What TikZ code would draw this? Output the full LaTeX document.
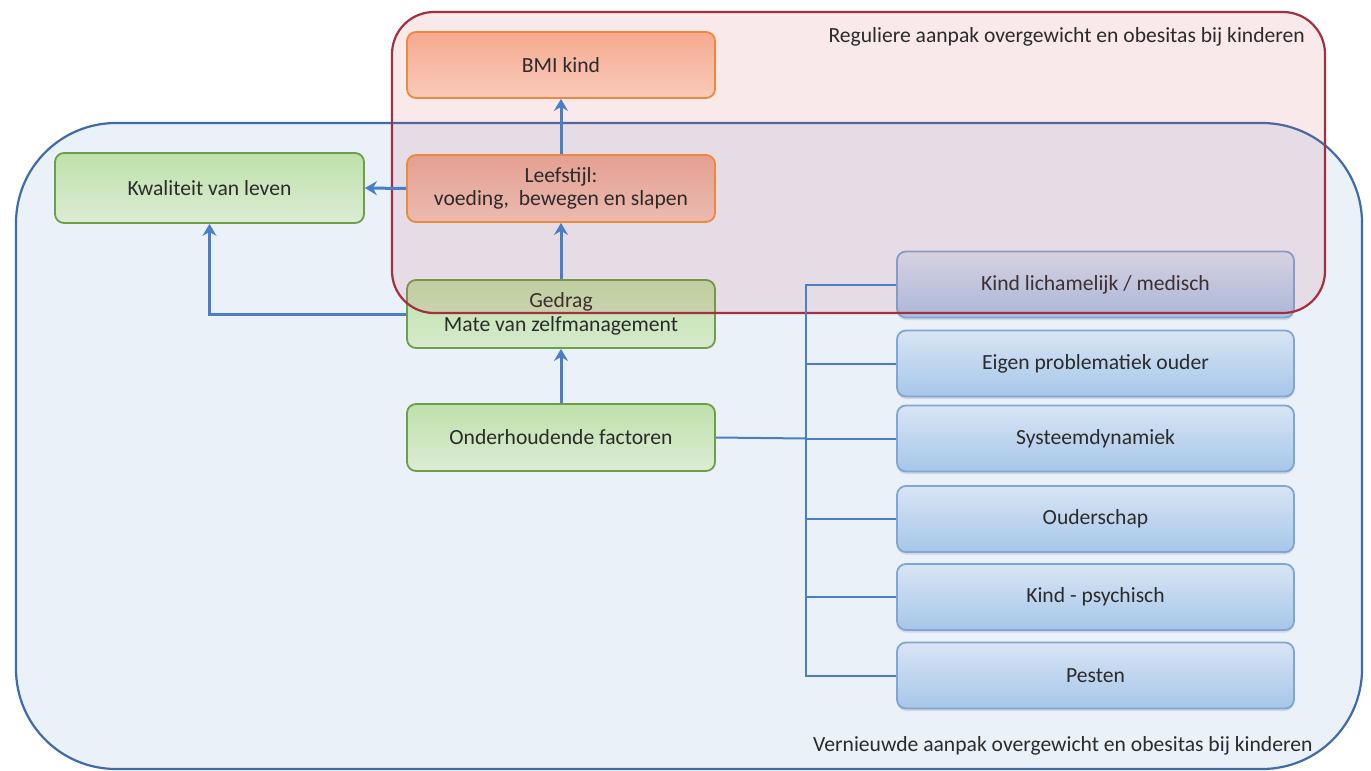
\documentclass[tikz,border=0pt]{standalone}
\usepackage{fontspec}
\setmainfont{Carlito}
\usetikzlibrary{arrows.meta,shadows}
\definecolor{txt}{HTML}{2B2B2B}
\definecolor{bigblue}{HTML}{EAF1F9}
\definecolor{bigbluedraw}{HTML}{3E6BA9}
\definecolor{pinkov}{HTML}{D04C5A}
\definecolor{pinkdraw}{HTML}{A3303F}
\definecolor{grdraw}{HTML}{6E9E4C}
\definecolor{ordraw}{HTML}{F0883A}
\definecolor{bldraw}{HTML}{7FA6D6}
\definecolor{conn}{HTML}{4A7EC6}
\definecolor{grA}{RGB}{190,225,170}
\definecolor{grB}{RGB}{220,236,212}
\definecolor{gdA}{RGB}{190,225,170}
\definecolor{gdB}{RGB}{214,234,204}
\definecolor{blA}{RGB}{216,229,244}
\definecolor{blB}{RGB}{166,198,233}
\definecolor{orA}{RGB}{246,170,144}
\definecolor{orB}{RGB}{249,203,186}
\definecolor{leA}{RGB}{228,160,146}
\definecolor{leB}{RGB}{236,186,176}
\tikzset{
  basebox/.style={rounded corners=9pt, line width=1.8pt, inner sep=0pt, align=center,
    text=txt, font=\fontsize{21.6}{24.5}\selectfont},
  midbox/.style={basebox, minimum width=308pt, minimum height=67pt},
  greenbox/.style={midbox, draw=grdraw, top color=grA, bottom color=grB},
  orangebox/.style={midbox, draw=ordraw},
  bluebox/.style={basebox, draw=bldraw, minimum width=397pt, minimum height=66pt,
    top color=blA, bottom color=blB,
    drop shadow={opacity=0.22, shadow xshift=0pt, shadow yshift=-2.5pt}},
  arrowline/.style={draw=conn, line width=3pt, -{Stealth[length=12pt,width=14pt,inset=4pt]}},
  bracketline/.style={draw=conn, line width=2pt},
  label/.style={text=txt, font=\fontsize{21.6}{24.5}\selectfont, inner sep=0pt}
}
\begin{document}
\begin{tikzpicture}[x=1pt,y=-1pt]
\fill[white] (0,0) rectangle (1371,771);
\useasboundingbox (0,0) rectangle (1371,771);
% big blue region
\draw[fill=bigblue, draw=bigbluedraw, line width=2.2pt, rounded corners=100pt] (16,123) rectangle (1362,769);
% boxes under the pink overlay
\node[greenbox, minimum width=309pt, minimum height=70pt] (kwal) at (209.5,188) {Kwaliteit van leven};
\node[greenbox, top color=gdA, bottom color=gdB, minimum height=68pt] (ged) at (561,314) {Gedrag\\[-1pt]Mate van zelfmanagement};
\node[greenbox] (ond) at (561,437.5) {Onderhoudende factoren};
\node[bluebox] (k1) at (1095.5,284.5) {Kind lichamelijk / medisch};
\node[bluebox] (k2) at (1095.5,363.5) {Eigen problematiek ouder};
\node[bluebox] (k3) at (1095.5,438.5) {Systeemdynamiek};
\node[bluebox] (k4) at (1095.5,519) {Ouderschap};
\node[bluebox] (k5) at (1095.5,597) {Kind - psychisch};
\node[bluebox] (k6) at (1095.5,675.5) {Pesten};
% pink region
\draw[fill=pinkov, fill opacity=0.12, draw=pinkdraw, line width=2.2pt, rounded corners=42pt] (392,12) rectangle (1325,313);
% orange boxes
\node[orangebox, top color=orA, bottom color=orB, minimum height=66pt] (bmi) at (561,65) {BMI kind};
\node[orangebox, top color=leA, bottom color=leB] (leef) at (561,188.5) {Leefstijl:\\[-2pt]voeding,\ \ bewegen en slapen};
% labels
\node[label, anchor=east] (lreg) at (1305,37) {Reguliere aanpak overgewicht en obesitas bij kinderen};
\node[label, anchor=west] (lver) at (813,746) {Vernieuwde aanpak overgewicht en obesitas bij kinderen};
% connectors
\draw[arrowline] (leef.north) -- (bmi.south);
\draw[arrowline] (ged.north) -- (leef.south);
\draw[arrowline] (ond.north) -- (ged.south);
\draw[arrowline] (leef.west) -- (kwal.east);
\draw[arrowline] (ged.west) -| (kwal.south);
\coordinate (btop) at (806,284.5);
\coordinate (bbot) at (806,675.5);
\draw[bracketline] (k1.west) -- (btop) -- (bbot) -- (k6.west);
\draw[bracketline] (k2.west) -- (k2.west -| btop);
\draw[bracketline] (k3.west) -- (k3.west -| btop);
\draw[bracketline] (k4.west) -- (k4.west -| btop);
\draw[bracketline] (k5.west) -- (k5.west -| btop);
\draw[bracketline] (ond.east) -- (k3.west -| btop);
\end{tikzpicture}
\end{document}
